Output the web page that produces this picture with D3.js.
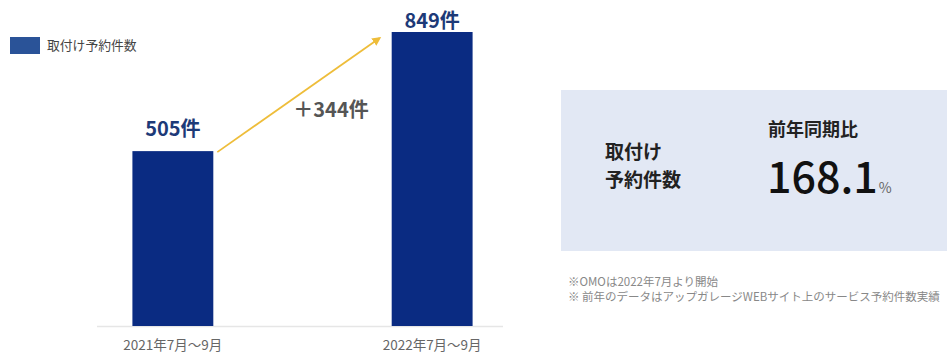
<!DOCTYPE html>
<html>
<head>
<meta charset="utf-8">
<script src="https://cdn.jsdelivr.net/npm/d3@7"></script>
<style>
  body { margin: 0; background: #fff; overflow: hidden; }
  svg { font-family: "Noto Sans CJK JP", "Noto Sans", sans-serif; display: block; }
</style>
</head>
<body>
<script>
// data
var categories = ["2021年7月～9月", "2022年7月～9月"];
var bookings = [505, 849];
var seriesName = "取付け予約件数";
var diffLabel = "＋344件";
var ratioValue = "168.1";
var notes = ["※OMOは2022年7月より開始", "※ 前年のデータはアップガレージWEBサイト上のサービス予約件数実績"];

var svgWidth = 947;
var svgHeight = 354;

var svg = d3.select("body")
            .append("svg")
            .attr("width", svgWidth)
            .attr("height", svgHeight);

// scales
var x = d3.scaleBand()
          .domain(categories)
          .range([100, 505])
          .paddingInner(0.688)
          .paddingOuter(0.125);

var y = d3.scaleLinear()
          .domain([0, 849])
          .range([326, 32]);

// baseline
svg.append("line")
   .attr("x1", 97).attr("x2", 503)
   .attr("y1", y(0) + 0.5).attr("y2", y(0) + 0.5)
   .attr("stroke", "#e6e6e6")
   .attr("stroke-width", 1.5);

// bars
svg.selectAll("rect.bar")
   .data(bookings)
   .enter()
   .append("rect")
   .attr("class", "bar")
   .attr("x", function(d, i) { return x(categories[i]); })
   .attr("y", function(d) { return y(d); })
   .attr("width", x.bandwidth())
   .attr("height", function(d) { return y(0) - y(d); })
   .attr("fill", "#0a2b82");

// value labels (the tall one sits tight on its bar to stay inside the page)
svg.selectAll("text.val")
   .data(bookings)
   .enter()
   .append("text")
   .attr("class", "val")
   .attr("x", function(d, i) { return x(categories[i]) + x.bandwidth() / 2; })
   .attr("y", function(d) { return Math.max(y(d) - 15, 28); })
   .attr("text-anchor", "middle")
   .style("font-size", "20px")
   .style("font-weight", "bold")
   .style("fill", "#1d3a78")
   .text(function(d) { return d + "件"; });

// category labels
svg.selectAll("text.cat")
   .data(categories)
   .enter()
   .append("text")
   .attr("class", "cat")
   .attr("x", function(d) { return x(d) + x.bandwidth() / 2; })
   .attr("y", 350)
   .attr("text-anchor", "middle")
   .style("font-size", "13.5px")
   .style("fill", "#666")
   .text(function(d) { return d; });

// arrow between bars
var defs = svg.append("defs");
defs.append("marker")
    .attr("id", "arrow")
    .attr("viewBox", "0 0 10 10")
    .attr("refX", 8).attr("refY", 5)
    .attr("markerWidth", 5).attr("markerHeight", 5)
    .attr("orient", "auto")
    .append("path")
    .attr("d", "M0,0L10,5L0,10z")
    .attr("fill", "#eebd3a");

svg.append("line")
   .attr("x1", x(categories[0]) + x.bandwidth() + 4)
   .attr("y1", y(bookings[0]) + 1)
   .attr("x2", x(categories[1]) - 12)
   .attr("y2", y(bookings[1]) + 6)
   .attr("stroke", "#eebd3a")
   .attr("stroke-width", 1.8)
   .attr("marker-end", "url(#arrow)");

svg.append("text")
   .attr("x", 331)
   .attr("y", 117)
   .attr("text-anchor", "middle")
   .style("font-size", "20px")
   .style("font-weight", "bold")
   .style("fill", "#555")
   .text(diffLabel);

// legend
svg.append("rect")
   .attr("x", 10).attr("y", 37)
   .attr("width", 30).attr("height", 17)
   .attr("fill", "#2a5398");

svg.append("text")
   .attr("x", 47).attr("y", 50)
   .style("font-size", "12.8px")
   .style("fill", "#444")
   .text(seriesName);

// comparison box
var box = svg.append("g");
box.append("rect")
   .attr("x", 561).attr("y", 90)
   .attr("width", 386).attr("height", 161)
   .attr("fill", "#e2e8f4");

box.append("text")
   .attr("x", 605).attr("y", 159)
   .style("font-size", "19px")
   .style("font-weight", "bold")
   .style("fill", "#222")
   .text("取付け");

box.append("text")
   .attr("x", 605).attr("y", 187)
   .style("font-size", "19px")
   .style("font-weight", "bold")
   .style("fill", "#222")
   .text("予約件数");

box.append("text")
   .attr("x", 813).attr("y", 136)
   .attr("text-anchor", "middle")
   .style("font-size", "18px")
   .style("font-weight", "bold")
   .style("fill", "#222")
   .text("前年同期比");

var ratio = box.append("text")
   .attr("x", 767).attr("y", 193)
   .style("fill", "#111");

ratio.append("tspan")
     .style("font-size", "43px")
     .style("font-weight", "500")
     .text(ratioValue);

ratio.append("tspan")
     .attr("dx", 1)
     .style("font-size", "14px")
     .style("fill", "#666")
     .text("%");

// notes
svg.selectAll("text.note")
   .data(notes)
   .enter()
   .append("text")
   .attr("class", "note")
   .attr("x", 568)
   .attr("y", function(d, i) { return 286 + i * 15; })
   .style("font-size", "11.5px")
   .style("fill", "#888")
   .text(function(d) { return d; });
</script>
</body>
</html>
